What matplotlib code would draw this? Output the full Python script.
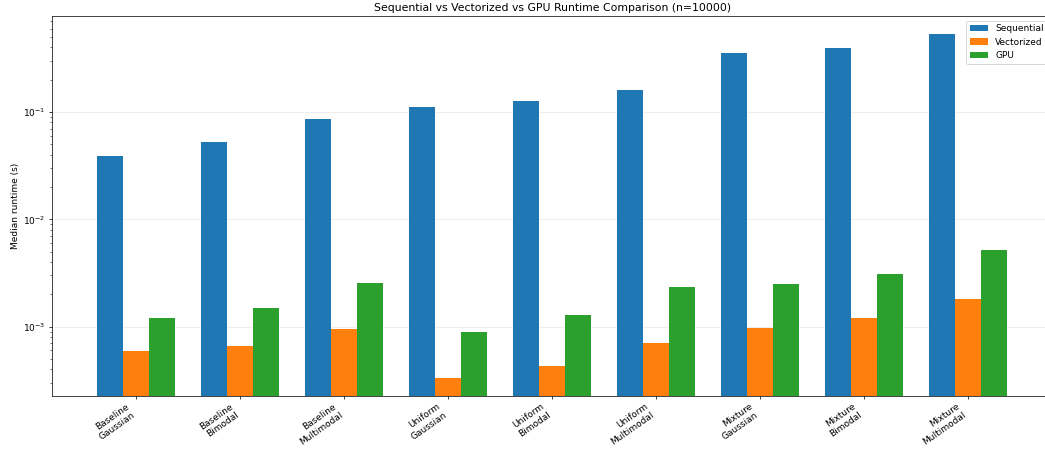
import numpy as np
import matplotlib
matplotlib.use("Agg")
import matplotlib.pyplot as plt

# Median runtimes (s)
scenarios = ["Baseline\nGaussian", "Baseline\nBimodal", "Baseline\nMultimodal",
             "Uniform\nGaussian", "Uniform\nBimodal", "Uniform\nMultimodal",
             "Mixture\nGaussian", "Mixture\nBimodal", "Mixture\nMultimodal"]
sequential = [0.0389, 0.0521, 0.086, 0.111, 0.126, 0.159, 0.352, 0.397, 0.537]
vectorized = [5.9e-4, 6.6e-4, 9.4e-4, 3.3e-4, 4.3e-4, 7.1e-4, 9.8e-4, 1.2e-3, 1.8e-3]
gpu = [1.21e-3, 1.48e-3, 2.56e-3, 8.85e-4, 1.27e-3, 2.32e-3, 2.49e-3, 3.09e-3, 5.21e-3]

fig = plt.figure(figsize=(1045 / 65, 450 / 65), dpi=65)
ax = fig.add_axes([0.0498, 0.1207, 0.957, 0.8437])

x = np.arange(len(scenarios))
width = 0.25
ax.bar(x - width, sequential, width, label="Sequential", color="#1f77b4")
ax.bar(x, vectorized, width, label="Vectorized", color="#ff7f0e")
ax.bar(x + width, gpu, width, label="GPU", color="#2ca02c")

ax.set_yscale("log")
ax.set_ylim(2.27e-4, 0.785)
ax.set_xticks(x)
ax.set_xticklabels(scenarios, rotation=35, ha="right")
ax.set_ylabel("Median runtime (s)")
ax.set_title("Sequential vs Vectorized vs GPU Runtime Comparison (n=10000)")
ax.grid(axis="y", alpha=0.3)
ax.set_axisbelow(True)
ax.legend(loc="upper right")

fig.savefig("out.png", dpi=65)
